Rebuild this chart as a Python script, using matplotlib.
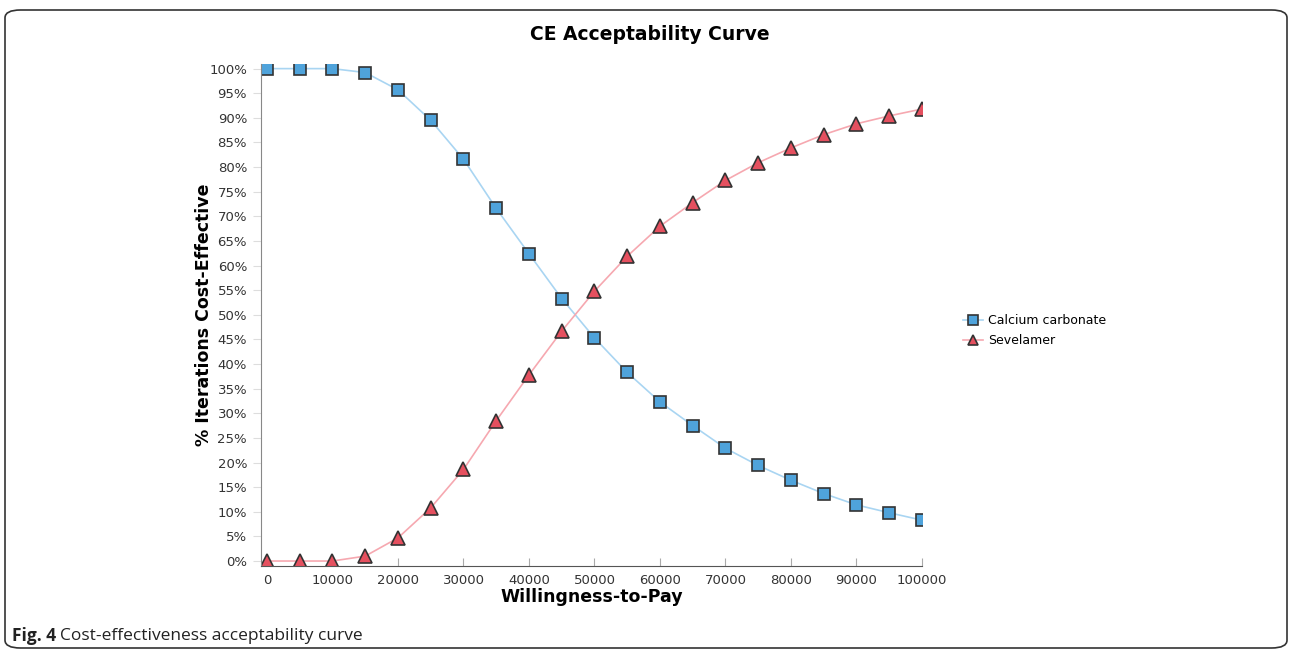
#!/usr/bin/env python3

import numpy as np
import matplotlib
matplotlib.use('Agg')
import matplotlib.pyplot as plt
from matplotlib.patches import FancyBboxPatch
from matplotlib.ticker import FuncFormatter
from matplotlib.transforms import offset_copy

Spec_figsize = (12.9, 6.51)
Spec_dpi = 100

wtp = [0, 5000, 10000, 15000, 20000, 25000, 30000, 35000, 40000, 45000, 50000,
       55000, 60000, 65000, 70000, 75000, 80000, 85000, 90000, 95000, 100000]

calcium = [100, 100, 100, 99.2, 95.7, 89.5, 81.6, 71.6, 62.4, 53.3, 45.3,
           38.3, 32.3, 27.5, 22.9, 19.4, 16.4, 13.7, 11.4, 9.8, 8.3]
sevelamer = [0, 0, 0, 1.0, 4.7, 10.8, 18.6, 28.5, 37.8, 46.7, 54.8,
             61.9, 68.0, 72.8, 77.3, 80.9, 83.9, 86.6, 88.8, 90.4, 91.8]

fig = plt.figure(figsize=Spec_figsize, dpi=Spec_dpi)

# rounded frame round the whole figure
frame = FancyBboxPatch((5/1290, 3/651), 1282/1290, 638/651,
                       boxstyle="round,pad=0,rounding_size=0.012",
                       transform=fig.transFigure, fill=False,
                       edgecolor='#333333', linewidth=1.2)
fig.patches.append(frame)

ax = fig.add_axes([261/1290, 85.3/651, 661/1290, 502/651])

ax.plot(wtp, calcium, color='#a9d5f2', linewidth=1.2, marker='s', markersize=9,
        markerfacecolor='#4fa3db', markeredgecolor='#333333', markeredgewidth=1.2,
        label='Calcium carbonate')
ax.plot(wtp, sevelamer, color='#f6a8b0', linewidth=1.2, marker='^', markersize=10,
        markerfacecolor='#e5505f', markeredgecolor='#333333', markeredgewidth=1.2,
        label='Sevelamer')

ax.set_xlim(-916, 100000)
ax.set_ylim(-0.95, 101)
ax.set_xticks(range(0, 100001, 10000))
ax.set_yticks(range(0, 101, 5))
ax.yaxis.set_major_formatter(FuncFormatter(lambda v, p: '%d%%' % v))

for side in ['top', 'right']:
    ax.spines[side].set_visible(False)
ax.spines['left'].set_color('#888888')
ax.spines['bottom'].set_color('#555555')

ax.tick_params(axis='y', direction='out', length=6, color='#dddddd',
               labelsize=9.5, labelcolor='#333333', pad=4)
ax.tick_params(axis='x', direction='in', length=6, color='#aaaaaa',
               labelsize=9.5, labelcolor='#333333', pad=6)

ax.set_xlabel('Willingness-to-Pay', fontsize=12.5, fontweight='bold', labelpad=1)
ax.set_ylabel('% Iterations Cost-Effective', fontsize=12.5, fontweight='bold', labelpad=-2.5)

fig.text(650/1290, 1 - 35/651, 'CE Acceptability Curve', ha='center', va='center',
         fontsize=13.5, fontweight='bold')

ax.legend(loc='center left', bbox_to_anchor=(1.045, 0.468), frameon=False,
          fontsize=9, handlelength=1.6, handletextpad=0.4, labelspacing=0.55,
          markerscale=0.75)

# caption: bold "Fig. 4" followed by plain text
cap = fig.text(12/1290, 1 - 636/651, 'Fig. 4', ha='left', va='center',
               fontsize=12.5, family='Open Sans', fontweight='bold', color='#222222')
fig.canvas.draw()
bb = cap.get_window_extent()
fig.text(bb.x1 + 4, bb.y0 + bb.height / 2, 'Cost-effectiveness acceptability curve',
         transform=None, ha='left', va='center', fontsize=12.5,
         family='Open Sans', color='#222222')

fig.savefig('out.png', dpi=Spec_dpi)
